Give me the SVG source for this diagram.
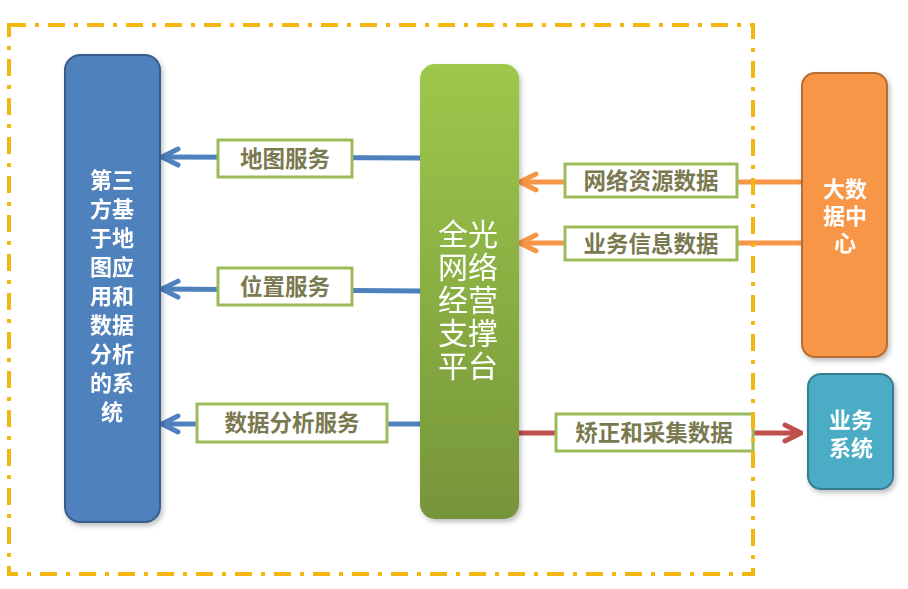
<svg xmlns="http://www.w3.org/2000/svg" width="908" height="589" viewBox="0 0 908 589">
<defs>
<linearGradient id="gGreen" x1="0" y1="0" x2="0" y2="1">
<stop offset="0" stop-color="#9DC84B"/>
<stop offset="1" stop-color="#76953A"/>
</linearGradient>
<filter id="sh" x="-20%" y="-20%" width="140%" height="140%">
<feDropShadow dx="2" dy="3" stdDeviation="2.5" flood-color="#000" flood-opacity="0.25"/>
</filter>
<marker id="mBlue" viewBox="0 0 22 22" refX="20" refY="11" markerWidth="22" markerHeight="22" markerUnits="userSpaceOnUse" orient="auto">
<path d="M4,3 L20,11 L4,19" fill="none" stroke="#4F81BD" stroke-width="5" stroke-linecap="round" stroke-linejoin="round"/>
</marker>
<marker id="mOrange" viewBox="0 0 22 22" refX="20" refY="11" markerWidth="22" markerHeight="22" markerUnits="userSpaceOnUse" orient="auto">
<path d="M4,3 L20,11 L4,19" fill="none" stroke="#F79646" stroke-width="5" stroke-linecap="round" stroke-linejoin="round"/>
</marker>
<marker id="mRed" viewBox="0 0 22 22" refX="20" refY="11" markerWidth="22" markerHeight="22" markerUnits="userSpaceOnUse" orient="auto">
<path d="M4,3 L20,11 L4,19" fill="none" stroke="#C0504D" stroke-width="5" stroke-linecap="round" stroke-linejoin="round"/>
</marker>
</defs>
<style>
.frame{fill:none;stroke:#F4B611;stroke-width:4;stroke-dasharray:17 9 4 9}
.ntxt{font-family:"Liberation Sans","Noto Sans CJK SC",sans-serif;fill:#fff;text-anchor:middle;dominant-baseline:central}
.b{font-weight:bold;font-size:22px}
.g{font-size:30px}
.lbl{fill:#fff;stroke:#9BBB59;stroke-width:3}
.ltxt{font-family:"Liberation Sans","Noto Sans CJK SC",sans-serif;font-weight:bold;font-size:22.5px;fill:#7A7950;text-anchor:middle;dominant-baseline:central}
.cb{stroke:#4F81BD;stroke-width:5;fill:none;marker-end:url(#mBlue)}
.co{stroke:#F79646;stroke-width:5;fill:none;marker-end:url(#mOrange)}
.cr{stroke:#C0504D;stroke-width:5;fill:none;marker-end:url(#mRed)}
</style>
<rect width="908" height="589" fill="#fff"/>

<g id="connectors">
<g id="c-map">
<line class="cb" x1="420" y1="158" x2="162" y2="157"/>
<rect class="lbl" x="218" y="140" width="134" height="37"/>
<text class="ltxt" x="285" y="159">地图服务</text>
</g>
<g id="c-loc">
<line class="cb" x1="420" y1="291" x2="162" y2="289"/>
<rect class="lbl" x="218" y="268" width="134" height="37"/>
<text class="ltxt" x="285" y="287">位置服务</text>
</g>
<g id="c-ana">
<line class="cb" x1="420" y1="424" x2="162" y2="424"/>
<rect class="lbl" x="197" y="404" width="190" height="38"/>
<text class="ltxt" x="292" y="423">数据分析服务</text>
</g>
<g id="c-net">
<line class="co" x1="802" y1="182" x2="520" y2="182"/>
<rect class="lbl" x="565" y="164" width="172" height="33"/>
<text class="ltxt" x="651" y="181">网络资源数据</text>
</g>
<g id="c-biz">
<line class="co" x1="802" y1="243" x2="520" y2="243"/>
<rect class="lbl" x="565" y="227" width="172" height="33"/>
<text class="ltxt" x="651" y="244">业务信息数据</text>
</g>
<g id="c-fix">
<line class="cr" x1="518" y1="433" x2="801" y2="433"/>
<rect class="lbl" x="556" y="414" width="197" height="37"/>
<text class="ltxt" x="654" y="433">矫正和采集数据</text>
</g>
</g>

<rect class="frame" x="9" y="25" width="744" height="549"/>

<g id="n-third" filter="url(#sh)">
<rect x="65" y="55" width="95" height="467" rx="15" fill="#4F81BD" stroke="#385D8A" stroke-width="2"/>
<text class="ntxt b"><tspan x="112" y="180">第三</tspan><tspan x="112" y="209">方基</tspan><tspan x="112" y="238">于地</tspan><tspan x="112" y="267">图应</tspan><tspan x="112" y="296">用和</tspan><tspan x="112" y="325">数据</tspan><tspan x="112" y="354">分析</tspan><tspan x="112" y="383">的系</tspan><tspan x="112" y="412">统</tspan></text>
</g>

<g id="n-platform" filter="url(#sh)">
<rect x="420" y="64" width="99" height="455" rx="15" fill="url(#gGreen)"/>
<text class="ntxt g"><tspan x="468" y="234">全光</tspan><tspan x="468" y="267">网络</tspan><tspan x="468" y="300">经营</tspan><tspan x="468" y="333">支撑</tspan><tspan x="468" y="366">平台</tspan></text>
</g>

<g id="n-bigdata" filter="url(#sh)">
<rect x="802" y="73" width="85" height="284" rx="13" fill="#F79646" stroke="#B66D31" stroke-width="2"/>
<text class="ntxt b"><tspan x="845" y="189">大数</tspan><tspan x="845" y="216">据中</tspan><tspan x="845" y="243">心</tspan></text>
</g>

<g id="n-bizsys" filter="url(#sh)">
<rect x="808" y="374" width="85" height="115" rx="13" fill="#4BACC6" stroke="#357D91" stroke-width="2"/>
<text class="ntxt b"><tspan x="851" y="420">业务</tspan><tspan x="851" y="448">系统</tspan></text>
</g>
</svg>
